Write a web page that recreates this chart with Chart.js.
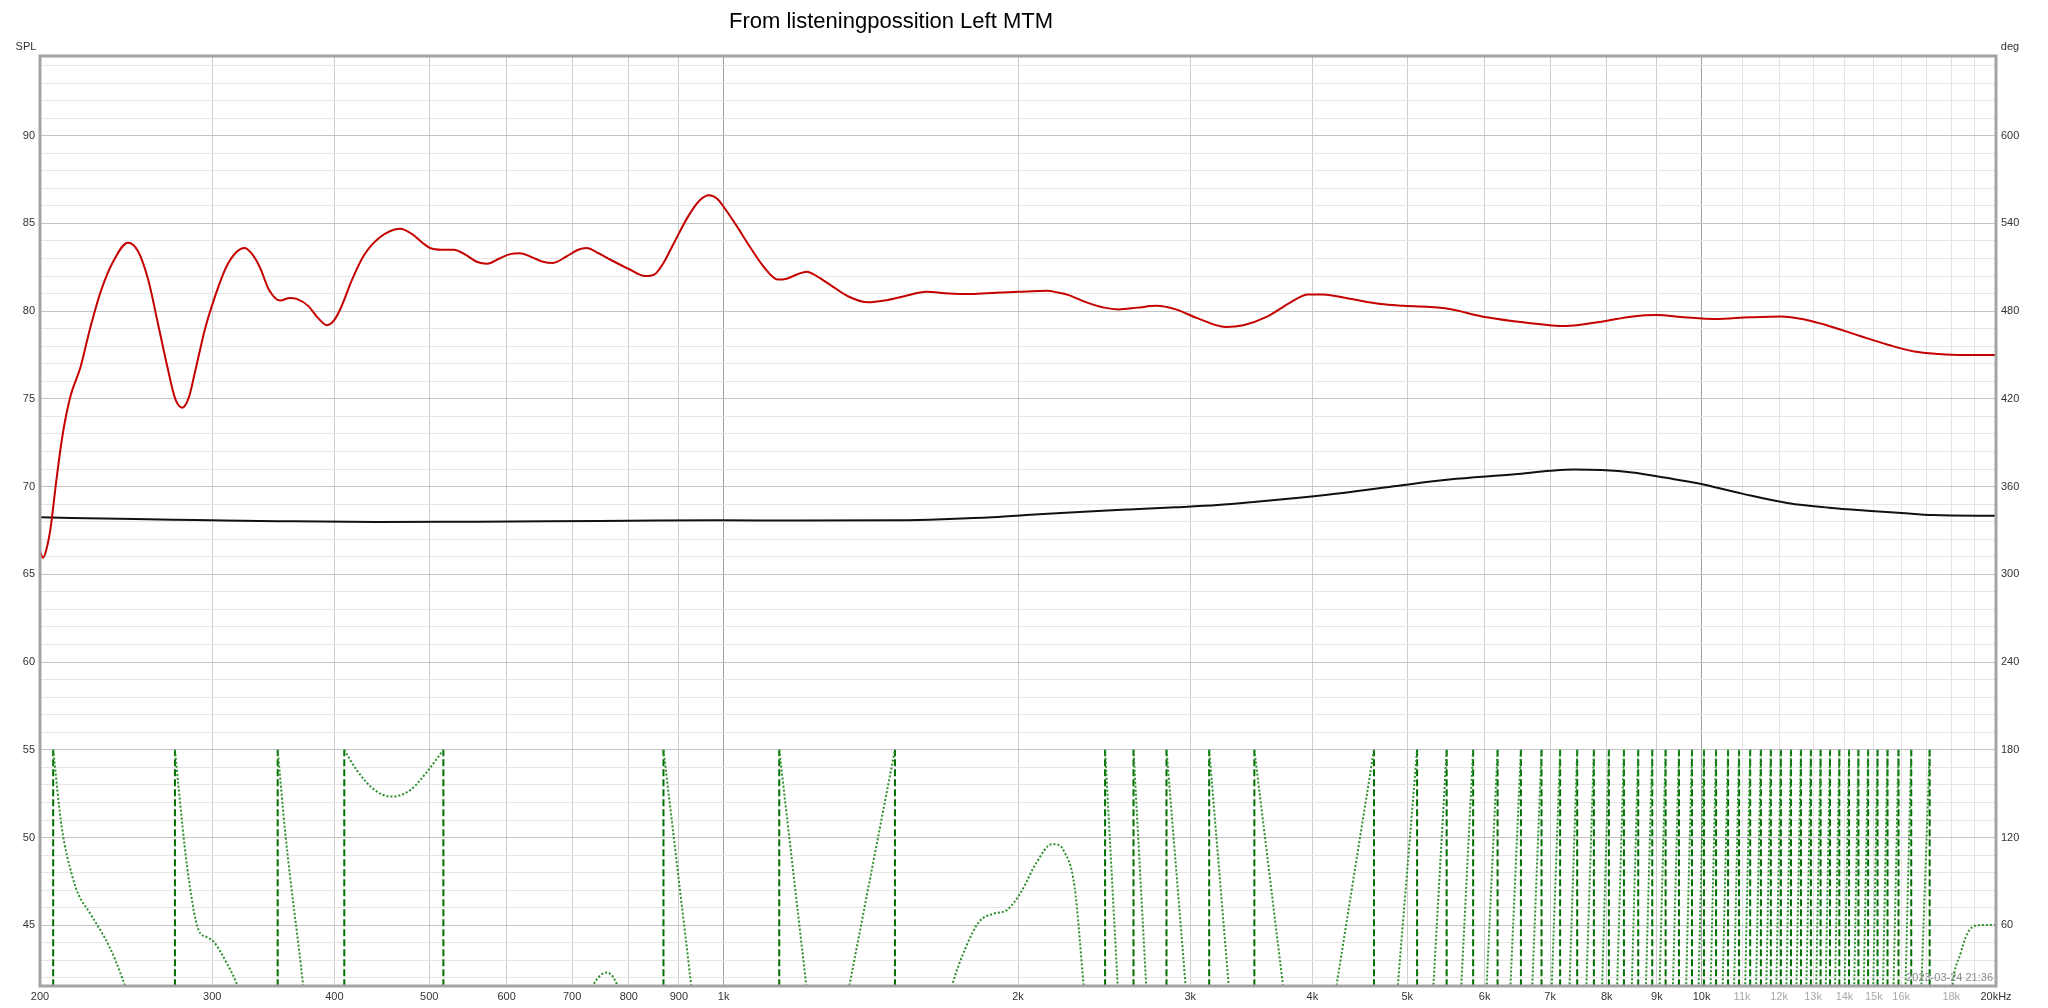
<!DOCTYPE html>
<html>
<head>
<meta charset="utf-8">
<script src="https://cdn.jsdelivr.net/npm/chart.js@4.4.0/dist/chart.umd.min.js"></script>
<style>
html, body { margin: 0; padding: 0; background: #fff; }
#wrap { width: 2048px; height: 1008px; }
</style>
</head>
<body>
<div id="wrap"><canvas id="c" width="2048" height="1008"></canvas></div>
<script>
const chartTitle = 'From listeningpossition Left MTM'
const stamp = '2023-03-24 21:36'

// SPL (red) [Hz, dB]
const splRed = [
  [200, 66.3], [201.5, 65.95], [203, 66.4], [205, 67.6], [208, 70.5], [211, 73.0], [215, 75.2],
  [220, 76.8], [225, 79.0], [231, 81.2], [238, 82.9], [246, 83.9], [252, 83.4], [258, 81.8],
  [264, 79.3], [270, 76.8], [275, 75.0], [279.6, 74.5], [284, 75.1], [288, 76.5], [295, 79.0],
  [301, 80.6], [310, 82.5], [318, 83.4], [323.8, 83.6], [329, 83.3], [335.6, 82.5], [343, 81.2],
  [352, 80.6], [360, 80.75], [366, 80.7], [376, 80.3], [385, 79.6], [393, 79.2], [400, 79.5],
  [406.6, 80.25], [417, 81.8], [429, 83.2], [445, 84.2], [467, 84.7], [480, 84.4], [492, 83.9],
  [501, 83.6], [515, 83.5], [530, 83.5], [545, 83.2], [560, 82.8], [573, 82.7], [590, 83.0],
  [605, 83.25], [619, 83.3], [635, 83.1], [655, 82.8], [669, 82.75], [690, 83.1], [710, 83.5],
  [724, 83.6], [745, 83.3], [768, 82.9], [800, 82.4], [831, 82.0], [850, 82.1], [867, 82.7],
  [890, 83.9], [920, 85.4], [945, 86.3], [966, 86.6], [985, 86.4], [1000, 85.95], [1030, 84.9],
  [1063, 83.7], [1100, 82.5], [1136, 81.8], [1160, 81.85], [1190, 82.1], [1216, 82.25],
  [1245, 82.0], [1293, 81.4], [1340, 80.85], [1406, 80.5], [1460, 80.6], [1530, 80.85],
  [1612, 81.1], [1700, 81.0], [1790, 80.97], [1900, 81.05], [2000, 81.1], [2141, 81.16],
  [2200, 81.05], [2257, 80.9], [2350, 80.5], [2450, 80.2], [2533, 80.1], [2650, 80.2],
  [2769, 80.3], [2900, 80.1], [3050, 79.6], [3260, 79.1], [3400, 79.2], [3600, 79.7],
  [3800, 80.5], [3960, 80.95], [4100, 80.95], [4367, 80.7], [4700, 80.4], [4959, 80.3],
  [5467, 80.16], [6028, 79.65], [6600, 79.35], [7255, 79.15], [7900, 79.4], [8500, 79.7],
  [8993, 79.78], [9600, 79.65], [10312, 79.55], [11200, 79.65], [12056, 79.7], [12800, 79.5],
  [13422, 79.2], [14500, 78.6], [15541, 78.07], [16500, 77.7], [17464, 77.56], [18500, 77.5],
  [20000, 77.5]
]

// second trace (black) [Hz, dB]
const splBlack = [
  [200, 68.25], [250, 68.15], [288, 68.1], [350, 68.03], [443, 67.98], [550, 68.0], [662, 68.02],
  [800, 68.05], [986, 68.08], [1200, 68.07], [1518, 68.08], [1700, 68.15], [1883, 68.25],
  [2100, 68.42], [2335, 68.57], [2600, 68.7], [2896, 68.82], [3200, 68.95], [3483, 69.12],
  [3900, 69.38], [4318, 69.65], [4900, 70.05], [5522, 70.4], [6442, 70.7], [7000, 70.9],
  [7397, 70.98], [7900, 70.95], [8497, 70.81], [9200, 70.5], [9909, 70.19], [11000, 69.6],
  [12280, 69.05], [13500, 68.8], [14775, 68.63], [16000, 68.5], [17230, 68.38], [20000, 68.34]
]

// phase [Hz, deg], one list per unbroken piece
const phaseLow = [
  [[206.3, 180], [210.5, 127], [215.9, 93], [219, 81], [225.6, 67], [235.4, 45.6], [242.7, 24], [248, 5]],
  [[274.8, 180], [276.9, 157], [282.8, 100], [290.4, 57], [296, 52], [301, 48.8], [310.5, 34], [318.7, 18], [322, 8]],
  [[350, 180], [356.3, 123], [371.7, 18], [374, 0]],
  [[409.4, 180], [421.7, 166], [439.8, 152.5], [457.2, 148], [478.3, 152.5], [498.8, 166], [517, 180]],
  [[720, 5], [740, 22], [759.5, 27.7], [775, 22], [790, 5]],
  [[868, 180], [930, 10]],
  [[1140, 180], [1224, 0]],
  [[1328, 0], [1497, 180]],
  [[1700, 10], [1711, 18], [1769, 45], [1826, 62.6], [1890, 68], [1948, 70.4], [2011, 81.9],
   [2088, 102.6], [2166, 115.5], [2200, 115], [2225, 111.6], [2285, 86.4], [2335, 18], [2345, 5]],
  [[2455, 180], [2538, 0]],
  [[2625, 180], [2714, 0]],
  [[2837, 180], [2983, 0]],
  [[3137, 180], [3302, 0]],
  [[3489, 180], [3762, 0]],
  [[4190, 0], [4624, 180]]
]
const phaseHigh = [
  [[4624, -180], [5118, 180]], [[5118, -180], [5487, 180]], [[5487, -180], [5840, 180]],
  [[5840, -180], [6186, 180]], [[6186, -180], [6535, 180]], [[6535, -180], [6860, 180]],
  [[6860, -180], [7167, 180]], [[7167, -180], [7461, 180]], [[7461, -180], [7760, 180]],
  [[7760, -180], [8039, 180]], [[8039, -180], [8329, 180]], [[8329, -180], [8614, 180]],
  [[8614, -180], [8903, 180]], [[8903, -180], [9188, 180]], [[9188, -180], [9481, 180]],
  [[9481, -180], [9776, 180]], [[9776, -180], [10056, 180]], [[10056, -180], [10347, 180]],
  [[10347, -180], [10643, 180]], [[10643, -180], [10922, 180]], [[10922, -180], [11212, 180]],
  [[11212, -180], [11498, 180]], [[11498, -180], [11771, 180]], [[11771, -180], [12052, 180]],
  [[12052, -180], [12342, 180]], [[12342, -180], [12635, 180]], [[12635, -180], [12935, 180]],
  [[12935, -180], [13234, 180]], [[13234, -180], [13530, 180]], [[13530, -180], [13830, 180]],
  [[13830, -180], [14150, 180]], [[14150, -180], [14466, 180]], [[14466, -180], [14800, 180]],
  [[14800, -180], [15132, 180]], [[15132, -180], [15492, 180]], [[15492, -180], [15898, 180]],
  [[15898, -180], [16382, 180]], [[16382, -180], [17108, 180]],
  [[17108, -180], [17700, -60], [18047, 18], [18404, 41], [18700, 54.6], [19150, 60], [20000, 60.3]]
]
// frequencies where the phase wraps +-180
const wrapFreqs = [
  206.3, 274.8, 350, 409.4, 517, 868, 1140, 1497, 2455, 2625, 2837, 3137, 3489,
  4624, 5118, 5487, 5840, 6186, 6535, 6860, 7167, 7461, 7760, 8039, 8329, 8614, 8903,
  9188, 9481, 9776, 10056, 10347, 10643, 10922, 11212, 11498, 11771, 12052, 12342,
  12635, 12935, 13234, 13530, 13830, 14150, 14466, 14800, 15132, 15492, 15898, 16382, 17108
]

const xTicks = [200, 300, 400, 500, 600, 700, 800, 900, 1000, 2000, 3000, 4000, 5000, 6000,
  7000, 8000, 9000, 10000, 11000, 12000, 13000, 14000, 15000, 16000, 17000, 18000, 19000, 20000]
const splTicks = [42, 43, 44, 45, 46, 47, 48, 49, 50, 51, 52, 53, 54, 55, 56, 57, 58, 59, 60,
  61, 62, 63, 64, 65, 66, 67, 68, 69, 70, 71, 72, 73, 74, 75, 76, 77, 78, 79, 80, 81, 82, 83,
  84, 85, 86, 87, 88, 89, 90, 91, 92, 93, 94]
const degTicks = [60, 120, 180, 240, 300, 360, 420, 480, 540, 600]

const FONT = '"Liberation Sans", Arial, sans-serif'
const toXY = pts => pts.map(p => ({x: p[0], y: p[1]}))
const joinSegs = segs => segs.flatMap((s, i) =>
  (i ? [{x: s[0][0], y: null}] : []).concat(toXY(s)))

const xLabel = v => {
  if (v < 1000) return String(v)
  if (v === 20000) return '20kHz'
  if (v === 17000 || v === 19000) return ''
  return (v / 1000) + 'k'
}

const frame = {
  id: 'frame',
  afterDraw(chart) {
    const {ctx, chartArea: a} = chart
    ctx.save()
    ctx.strokeStyle = '#a4a4a4'
    ctx.lineWidth = 3
    ctx.strokeRect(a.left, a.top, a.right - a.left, a.bottom - a.top)
    ctx.fillStyle = '#000'
    ctx.textAlign = 'center'
    ctx.textBaseline = 'middle'
    ctx.font = '22px ' + FONT
    ctx.fillText(chartTitle, 891, 22)
    ctx.fillStyle = '#333'
    ctx.font = '11px ' + FONT
    ctx.fillText('SPL', 26, 47)
    ctx.fillText('deg', 2010, 47)
    ctx.fillStyle = '#8a8a8a'
    ctx.textAlign = 'right'
    ctx.fillText(stamp, 1993, 978)
    ctx.restore()
  }
}

new Chart(document.getElementById('c').getContext('2d'), {
  type: 'line',
  data: {
    datasets: [{
      data: toXY(splRed),
      yAxisID: 'y',
      borderColor: '#c40000',
      borderWidth: 2,
      pointRadius: 0,
      cubicInterpolationMode: 'monotone'
    }, {
      data: toXY(splBlack),
      yAxisID: 'y',
      borderColor: '#111',
      borderWidth: 2,
      pointRadius: 0,
      cubicInterpolationMode: 'monotone'
    }, {
      data: joinSegs(phaseLow.concat(phaseHigh)),
      yAxisID: 'y2',
      borderColor: '#2a8f2a',
      borderWidth: 2,
      borderDash: [2, 2],
      pointRadius: 0,
      spanGaps: false,
      cubicInterpolationMode: 'monotone'
    }, {
      data: wrapFreqs.flatMap(f => [{x: f, y: -180}, {x: f, y: 180}, {x: f, y: null}]),
      yAxisID: 'y2',
      borderColor: '#007000',
      borderWidth: 2,
      borderDash: [7, 3],
      pointRadius: 0,
      spanGaps: false,
      tension: 0
    }]
  },
  options: {
    responsive: false,
    animation: false,
    devicePixelRatio: 1,
    layout: {padding: {top: 56, left: 0, right: 0, bottom: 0}},
    plugins: {legend: {display: false}, tooltip: {enabled: false}, title: {display: false}},
    scales: {
      x: {
        type: 'logarithmic',
        min: 200,
        max: 20000,
        afterBuildTicks: s => { s.ticks = xTicks.map(v => ({value: v})) },
        afterFit: s => { s.height = 22 },
        border: {display: false},
        grid: {
          drawTicks: false,
          color: c => {
            const v = c.tick && c.tick.value
            if (v === 1000 || v === 10000) return '#a0a0a0'
            if (v > 10000) return '#e4e4e4'
            return '#cdcdcd'
          }
        },
        ticks: {
          autoSkip: false,
          maxRotation: 0,
          padding: 4,
          font: {family: FONT, size: 11},
          color: c => (c.tick && c.tick.value > 10000 && c.tick.value < 20000) ? '#a8a8a8' : '#333',
          callback: v => xLabel(v)
        }
      },
      y: {
        position: 'left',
        min: 41.54,
        max: 94.54,
        afterBuildTicks: s => { s.ticks = splTicks.map(v => ({value: v})) },
        afterFit: s => { s.width = 40 },
        border: {display: false},
        grid: {
          drawTicks: false,
          color: c => (c.tick && c.tick.value % 5 === 0) ? '#c4c4c4' : '#e6e6e6'
        },
        ticks: {
          autoSkip: false,
          padding: 5,
          font: {family: FONT, size: 11},
          color: '#333',
          callback: v => (v % 5 === 0 ? String(v) : '')
        }
      },
      y2: {
        position: 'right',
        min: 18.48,
        max: 654.48,
        afterBuildTicks: s => { s.ticks = degTicks.map(v => ({value: v})) },
        afterFit: s => { s.width = 52 },
        border: {display: false},
        grid: {display: false, drawTicks: false},
        ticks: {
          autoSkip: false,
          padding: 5,
          font: {family: FONT, size: 11},
          color: '#333'
        }
      }
    }
  },
  plugins: [frame]
})
</script>
</body>
</html>
